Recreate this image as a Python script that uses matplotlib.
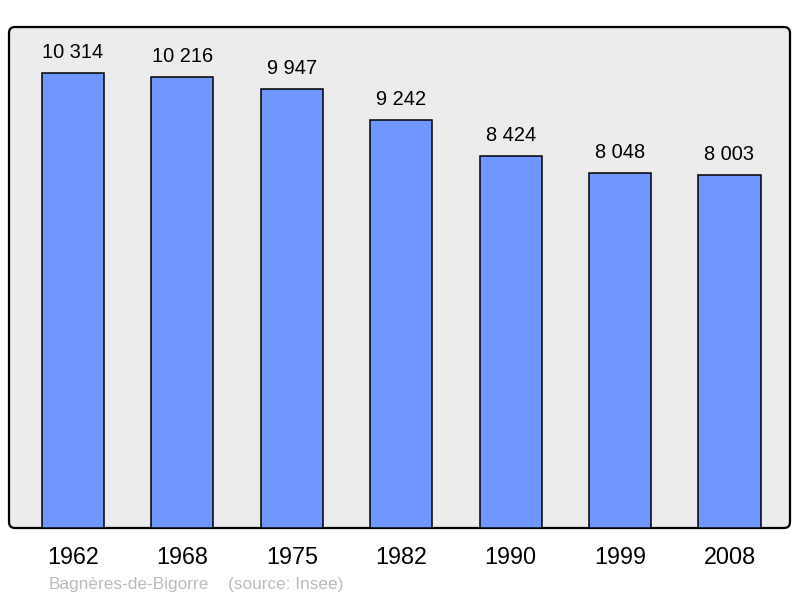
import matplotlib.pyplot as plt
from matplotlib.patches import FancyBboxPatch
from matplotlib.transforms import IdentityTransform

plt.rcParams['font.family'] = ['Liberation Sans', 'DejaVu Sans']

years = ['1962', '1968', '1975', '1982', '1990', '1999', '2008']
population = [10314, 10216, 9947, 9242, 8424, 8048, 8003]
value_labels = ['10 314', '10 216', '9 947', '9 242', '8 424', '8 048', '8 003']

fig = plt.figure(figsize=(8, 5.98), dpi=100)
fig.patch.set_facecolor('white')

# rounded frame drawn in pixel coordinates, behind the axes
frame = FancyBboxPatch((9, 598 - 528), 781, 501,
                       boxstyle='round,pad=0,rounding_size=6',
                       transform=IdentityTransform(),
                       facecolor='#ececec', edgecolor='black', linewidth=1.6,
                       zorder=-5)
fig.patches.append(frame)

ax = fig.add_axes([9 / 800, 70 / 598, 781 / 800, 501 / 598])
ax.set_zorder(1)
ax.patch.set_visible(False)
for s in ax.spines.values():
    s.set_visible(False)

x = list(range(len(years)))
bars = ax.bar(x, population, width=0.567, color='#7096ff',
              edgecolor='black', linewidth=1.1, zorder=2)

ax.set_xlim(-0.585, 6.553)
ax.set_ylim(0, 11357)
ax.set_yticks([])
ax.set_xticks(x)
ax.set_xticklabels(years, fontsize=16.8)
ax.tick_params(axis='x', length=0, pad=13)

for rect, label in zip(bars, value_labels):
    ax.annotate(label, (rect.get_x() + rect.get_width() / 2, rect.get_height()),
                xytext=(0, 8), textcoords='offset points',
                ha='center', va='bottom', fontsize=14.4)

fig.text(49 / 800, 1 - 585 / 598, 'Bagnères-de-Bigorre', color='#bbbbbb',
         fontsize=12.4, va='center', ha='left')
fig.text(228 / 800, 1 - 585 / 598, '(source: Insee)', color='#bbbbbb',
         fontsize=12.4, va='center', ha='left')

fig.savefig('out.png', dpi=100)
